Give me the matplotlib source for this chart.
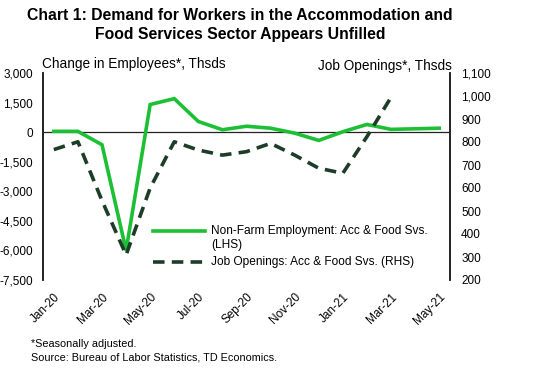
import matplotlib
matplotlib.use("Agg")
import matplotlib.pyplot as plt
from matplotlib.lines import Line2D

months = ["Jan-20", "Feb-20", "Mar-20", "Apr-20", "May-20", "Jun-20", "Jul-20", "Aug-20",
          "Sep-20", "Oct-20", "Nov-20", "Dec-20", "Jan-21", "Feb-21", "Mar-21", "Apr-21", "May-21"]
employment = [40, 40, -640, -6000, 1400, 1700, 540, 120, 300, 200, -50, -420, 20, 390, 140, 170, 200]
openings = [767, 801, 545, 309, 600, 801, 765, 743, 758, 794, 743, 686, 664, 823, 994]

left_ticks = [3000, 1500, 0, -1500, -3000, -4500, -6000, -7500]
right_ticks = [1100, 1000, 900, 800, 700, 600, 500, 400, 300, 200]

plt.rcParams['font.family'] = ['Liberation Sans', 'DejaVu Sans']

GREEN = "#1DBF34"
DARK = "#1E3D28"

fig = plt.figure(figsize=(5.33, 3.85), dpi=100)
ax = fig.add_axes([43/533, 1-280/385, (450-43)/533, (280-73)/385])
ax2 = ax.twinx()

x = list(range(len(months)))
ax.plot(x, employment, color=GREEN, lw=2.6, solid_joinstyle='miter', zorder=3)
ax2.plot(x[:len(openings)], openings, color=DARK, lw=2.6, dashes=(3.2, 2.0), zorder=2)
ax.axhline(0, color="#222222", lw=0.9, zorder=1)

ax.set_ylim(-7500, 3000)
ax2.set_ylim(200, 1100)
ax.set_xlim(-0.45, 16.45)
ax.set_yticks(left_ticks)
ax.set_yticklabels([f"{v:,}" for v in left_ticks])
ax2.set_yticks(right_ticks)
ax2.set_yticklabels([f"{v:,}" for v in right_ticks])
ax.set_xticks(x[::2])
ax.set_xticklabels(months[::2], rotation=45, ha='right', va='top', rotation_mode='anchor')

for a in (ax, ax2):
    a.spines['top'].set_visible(False)
    a.spines['bottom'].set_visible(False)
    a.spines['left'].set_color("#222222")
    a.spines['right'].set_color("#222222")
    a.spines['left'].set_linewidth(1.2)
    a.spines['right'].set_linewidth(1.2)
    a.set_facecolor('none')
ax.tick_params(axis='y', length=0, pad=7, labelsize=8.5)
ax2.tick_params(axis='y', length=0, pad=8, labelsize=8.5)
ax.tick_params(axis='x', length=0, pad=8, labelsize=8.5)

fig.text(240/533, 1-16/385, "Chart 1: Demand for Workers in the Accommodation and",
         ha='center', va='center', fontsize=11.3, fontweight='bold')
fig.text(240/533, 1-34/385, "Food Services Sector Appears Unfilled",
         ha='center', va='center', fontsize=11.3, fontweight='bold')
fig.text(42/533, 1-64/385, "Change in Employees*, Thsds", ha='left', va='center', fontsize=9.8)
fig.text(452/533, 1-66/385, "Job Openings*, Thsds", ha='right', va='center', fontsize=9.8)

# legend (manual)
lx0, lx1 = 153/533, 205/533
fig.add_artist(Line2D([lx0, lx1], [1-231/385]*2, color=GREEN, lw=2.6, transform=fig.transFigure))
fig.add_artist(Line2D([lx0, lx1], [1-262/385]*2, color=DARK, lw=2.6, dashes=(3.2, 2.0),
                      transform=fig.transFigure))
fig.text(211/533, 1-231/385, "Non-Farm Employment: Acc & Food Svs.", ha='left', va='center', fontsize=8.6)
fig.text(211/533, 1-245/385, "(LHS)", ha='left', va='center', fontsize=8.6)
fig.text(211/533, 1-262/385, "Job Openings: Acc & Food Svs. (RHS)", ha='left', va='center', fontsize=8.6)

fig.text(31/533, 1-344/385, "*Seasonally adjusted.", ha='left', va='center', fontsize=7.8)
fig.text(31/533, 1-357/385, "Source: Bureau of Labor Statistics, TD Economics.", ha='left', va='center', fontsize=7.8)

fig.savefig("out.png", dpi=100)
